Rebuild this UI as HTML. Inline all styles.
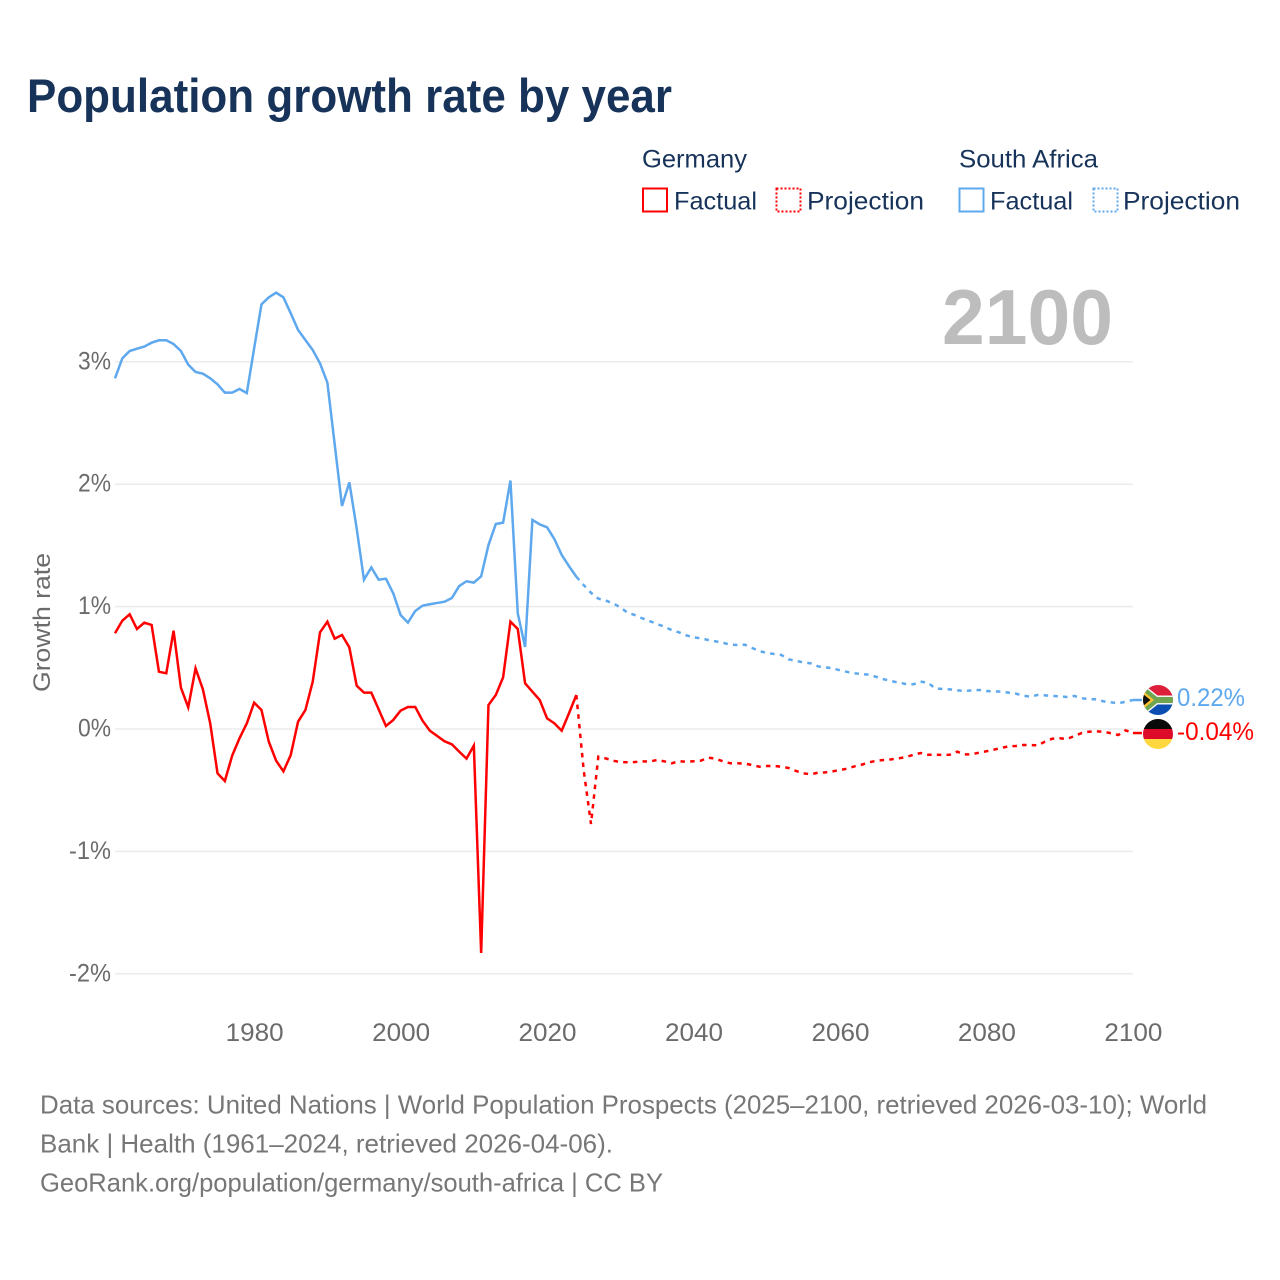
<!DOCTYPE html>
<html lang="en">
<head>
<meta charset="utf-8">
<title>Population growth rate by year</title>
<style>
  html, body { margin: 0; padding: 0; background: #ffffff; }
  svg { display: block; font-family: "Liberation Sans", sans-serif; }
</style>
</head>
<body>
<svg id="chart" xmlns="http://www.w3.org/2000/svg" width="1280" height="1280" viewBox="0 0 1280 1280">
  <defs>
    <clipPath id="clip-sa"><circle cx="1158" cy="700" r="15"></circle></clipPath>
    <clipPath id="clip-de"><circle cx="1158" cy="734" r="15"></circle></clipPath>
  </defs>
  <rect x="0" y="0" width="1280" height="1280" fill="#ffffff"></rect>

  <text x="27" y="112" font-size="47" font-weight="700" fill="#17335a" textLength="645" lengthAdjust="spacingAndGlyphs">Population growth rate by year</text>

  <g font-size="25" fill="#17335a">
    <text x="642" y="167.500" textLength="105" lengthAdjust="spacingAndGlyphs">Germany</text>
    <rect x="643" y="188.500" width="24" height="23" fill="none" stroke="#ff0000" stroke-width="2"></rect>
    <text x="674" y="209.500" textLength="83" lengthAdjust="spacingAndGlyphs">Factual</text>
    <rect x="776.500" y="188.500" width="24" height="23" fill="none" stroke="#ff0000" stroke-width="2" stroke-dasharray="2 2"></rect>
    <text x="807" y="209.500" textLength="117" lengthAdjust="spacingAndGlyphs">Projection</text>
    <text x="959" y="167.500" textLength="139" lengthAdjust="spacingAndGlyphs">South Africa</text>
    <rect x="959.500" y="188.500" width="24" height="23" fill="none" stroke="#5ea8ee" stroke-width="2"></rect>
    <text x="990" y="209.500" textLength="83" lengthAdjust="spacingAndGlyphs">Factual</text>
    <rect x="1093.500" y="188.500" width="24" height="23" fill="none" stroke="#5ea8ee" stroke-width="2" stroke-dasharray="2 2"></rect>
    <text x="1123" y="209.500" textLength="117" lengthAdjust="spacingAndGlyphs">Projection</text>
  </g>

  <g id="grid"></g>
  <g id="yticks"></g>
  <g id="xticks"></g>

  <text x="942" y="344" font-size="78" font-weight="700" fill="#bdbdbd" textLength="171" lengthAdjust="spacingAndGlyphs">2100</text>

  <text transform="translate(50,622.500) rotate(-90)" text-anchor="middle" font-size="24" fill="#6b6b6b" textLength="139" lengthAdjust="spacingAndGlyphs">Growth rate</text>

  <g id="series"></g>

  <g clip-path="url(#clip-sa)">
    <rect x="1143" y="685" width="30" height="15" fill="#de1f3a"></rect>
    <rect x="1143" y="700" width="30" height="15" fill="#0b4fb3"></rect>
    <polyline points="1141,688 1156,700 1175,700" fill="none" stroke="#f4f4f4" stroke-width="9"></polyline>
    <polyline points="1141,712 1156,700" fill="none" stroke="#f4f4f4" stroke-width="9"></polyline>
    <polyline points="1141,688 1156,700 1175,700" fill="none" stroke="#6fa550" stroke-width="6"></polyline>
    <polyline points="1141,712 1156,700" fill="none" stroke="#6fa550" stroke-width="6"></polyline>
    <polygon points="1143,691 1154,700 1143,709" fill="#ffc52e"></polygon>
    <polygon points="1143,694 1150.500,700 1143,706" fill="#111111"></polygon>
  </g>
  <g clip-path="url(#clip-de)">
    <rect x="1143" y="719" width="30" height="10" fill="#0a0a0a"></rect>
    <rect x="1143" y="729" width="30" height="10" fill="#dd0a2a"></rect>
    <rect x="1143" y="739" width="30" height="10" fill="#ffd840"></rect>
  </g>

  <text x="1177" y="706" font-size="25" fill="#5ea8ee" textLength="68" lengthAdjust="spacingAndGlyphs">0.22%</text>
  <text x="1177" y="740" font-size="25" fill="#ff0000" textLength="77" lengthAdjust="spacingAndGlyphs">-0.04%</text>

  <g font-size="26" fill="#777777">
    <text x="40" y="1113.500" textLength="1167" lengthAdjust="spacingAndGlyphs">Data sources: United Nations | World Population Prospects (2025–2100, retrieved 2026-03-10); World</text>
    <text x="40" y="1152.500" textLength="573" lengthAdjust="spacingAndGlyphs">Bank | Health (1961–2024, retrieved 2026-04-06).</text>
    <text x="40" y="1191.500" textLength="623" lengthAdjust="spacingAndGlyphs">GeoRank.org/population/germany/south-africa | CC BY</text>
  </g>
</svg>

<script>
const yTickValues = [3, 2, 1, 0, -1, -2];
const yTickLabels = ["3%", "2%", "1%", "0%", "-1%", "-2%"];
const xTickYears = [1980, 2000, 2020, 2040, 2060, 2080, 2100];
const xTickLabels = ["1980", "2000", "2020", "2040", "2060", "2080", "2100"];

const factualStartYear = 1961;
const projectionStartYear = 2024;

const germanyFactual = [
  0.782, 0.885, 0.937, 0.817, 0.869, 0.85, 0.468, 0.455, 0.803, 0.338,
  0.177, 0.496, 0.324, 0.046, -0.362, -0.425, -0.218, -0.076, 0.046, 0.215,
  0.155, -0.103, -0.259, -0.346, -0.212, 0.06, 0.155, 0.387, 0.79, 0.877,
  0.738, 0.768, 0.667, 0.354, 0.297, 0.297, 0.161, 0.0245, 0.074, 0.15,
  0.18, 0.18, 0.068, -0.014, -0.057, -0.1, -0.125, -0.185, -0.242, -0.136,
  -1.83, 0.196, 0.278, 0.422, 0.877, 0.817, 0.373, 0.305, 0.237, 0.087,
  0.046, -0.014, 0.13, 0.278
];
const germanyProjection = [
  0.278, -0.335, -0.776, -0.226, -0.24, -0.259,
  -0.27, -0.272, -0.27, -0.264, -0.267, -0.253, -0.264, -0.28, -0.264, -0.267,
  -0.264, -0.259, -0.234, -0.242, -0.264, -0.28, -0.28, -0.283, -0.294, -0.308,
  -0.302, -0.302, -0.308, -0.319, -0.343, -0.362, -0.37, -0.357, -0.354, -0.346,
  -0.335, -0.324, -0.305, -0.291, -0.272, -0.259, -0.253, -0.248, -0.24, -0.229,
  -0.212, -0.196, -0.21, -0.21, -0.212, -0.21, -0.185, -0.207, -0.207, -0.193,
  -0.182, -0.169, -0.155, -0.142, -0.139, -0.131, -0.131, -0.133, -0.103, -0.079,
  -0.076, -0.082, -0.057, -0.033, -0.022, -0.019, -0.022, -0.035, -0.049, -0.011,
  -0.033
];
const southAfricaFactual = [
  2.865, 3.028, 3.088, 3.107, 3.124, 3.156, 3.176, 3.176, 3.145, 3.088,
  2.977, 2.917, 2.903, 2.865, 2.816, 2.748, 2.748, 2.778, 2.745, 3.11,
  3.469, 3.527, 3.565, 3.527, 3.396, 3.26, 3.178, 3.096, 2.987, 2.83,
  2.326, 1.822, 2.015, 1.64, 1.22, 1.32, 1.22, 1.228, 1.108, 0.931,
  0.869, 0.964, 1.008, 1.019, 1.03, 1.04, 1.07, 1.168, 1.207, 1.196,
  1.247, 1.503, 1.675, 1.686, 2.03, 0.945, 0.67, 1.708, 1.672, 1.648,
  1.552, 1.422, 1.33, 1.244
];
const southAfricaProjection = [
  1.244, 1.176, 1.113, 1.065, 1.05, 1.027,
  0.994, 0.95, 0.931, 0.904, 0.882, 0.858, 0.836, 0.809, 0.79, 0.765,
  0.749, 0.741, 0.727, 0.716, 0.705, 0.689, 0.686, 0.689, 0.662, 0.637,
  0.621, 0.613, 0.605, 0.569, 0.556, 0.545, 0.536, 0.512, 0.504, 0.496,
  0.479, 0.466, 0.455, 0.449, 0.444, 0.425, 0.406, 0.392, 0.379, 0.368,
  0.365, 0.387, 0.379, 0.332, 0.327, 0.324, 0.316, 0.31, 0.316, 0.319,
  0.31, 0.308, 0.305, 0.297, 0.289, 0.272, 0.264, 0.278, 0.275, 0.27,
  0.267, 0.261, 0.27, 0.251, 0.245, 0.242, 0.226, 0.218, 0.21, 0.223,
  0.237
];

const SVG_NS = "http://www.w3.org/2000/svg";
const RED = "#ff0000";
const BLUE = "#5ea8ee";

function xScale(year) { return 115 + (year - 1961) * 7.323; }
function yScale(value) { return 729 - value * 122.4; }

function linePath(values, startYear) {
  return values.map(function (v, i) {
    return (i === 0 ? "M" : "L") + xScale(startYear + i).toFixed(2) + " " + yScale(v).toFixed(2);
  }).join(" ");
}

const gridGroup = document.getElementById("grid");
const yTickGroup = document.getElementById("yticks");
yTickValues.forEach(function (v, i) {
  const line = document.createElementNS(SVG_NS, "line");
  
  
  line.setAttribute("x1", xScale(1961));
  line.setAttribute("x2", xScale(2100));
  line.setAttribute("y1", yScale(v));
  line.setAttribute("y2", yScale(v));
  line.setAttribute("stroke", "#ebebeb");
  line.setAttribute("stroke-width", "1.500");
  gridGroup.appendChild(line);

  const label = document.createElementNS(SVG_NS, "text");
  
  
  label.setAttribute("x", 111);
  label.setAttribute("y", yScale(v) + 7.5);
  label.setAttribute("text-anchor", "end");
  label.setAttribute("font-size", "25");
  label.setAttribute("fill", "#6b6b6b");
  label.setAttribute("textLength", yTickLabels[i].length > 2 ? 42 : 33);
  label.setAttribute("lengthAdjust", "spacingAndGlyphs");
  label.textContent = yTickLabels[i];
  yTickGroup.appendChild(label);
});

const xTickGroup = document.getElementById("xticks");
xTickYears.forEach(function (year, i) {
  const label = document.createElementNS(SVG_NS, "text");
  
  
  label.setAttribute("x", xScale(year) + 0.5);
  label.setAttribute("y", 1041);
  label.setAttribute("text-anchor", "middle");
  label.setAttribute("font-size", "25");
  label.setAttribute("fill", "#6b6b6b");
  label.setAttribute("textLength", 58);
  label.setAttribute("lengthAdjust", "spacingAndGlyphs");
  label.textContent = xTickLabels[i];
  xTickGroup.appendChild(label);
});

const seriesGroup = document.getElementById("series");

function addLine(pathData, color, dashed) {
  const path = document.createElementNS(SVG_NS, "path");
  path.setAttribute("d", pathData);
  path.setAttribute("fill", "none");
  path.setAttribute("stroke", color);
  path.setAttribute("stroke-width", "2.500");
  path.setAttribute("stroke-linejoin", "miter");
  if (dashed) { path.setAttribute("stroke-dasharray", "4.500 5.200"); }
  seriesGroup.appendChild(path);
  return path;
}

const saProjectionLine = addLine(linePath(southAfricaProjection, projectionStartYear), BLUE, true);



const saFactualLine = addLine(linePath(southAfricaFactual, factualStartYear), BLUE, false);



const deProjectionLine = addLine(linePath(germanyProjection, projectionStartYear), RED, true);



const deFactualLine = addLine(linePath(germanyFactual, factualStartYear), RED, false);



function connectorPath(values) {
  const last = yScale(values[values.length - 1]);
  return "M" + xScale(2100) + " " + last + " H" + (xScale(2100) + 9);
}

const saConnector = addLine(connectorPath(southAfricaProjection), BLUE, false);



const deConnector = addLine(connectorPath(germanyProjection), RED, false);


</script>
</body>
</html>
